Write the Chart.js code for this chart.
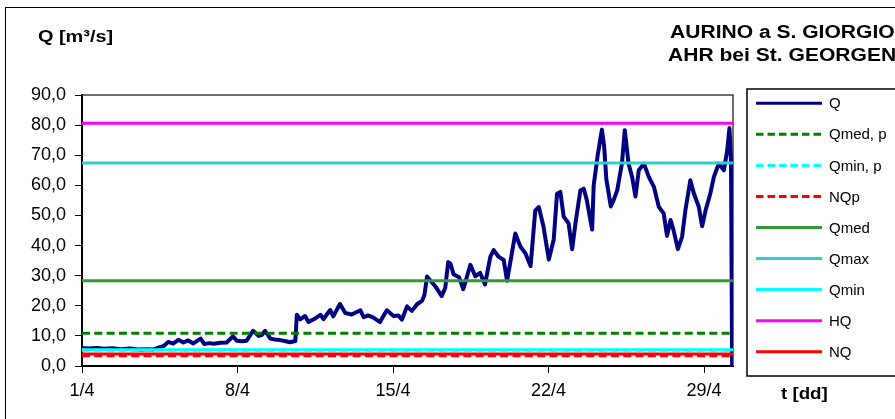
<!DOCTYPE html>
<html>
<head>
<meta charset="utf-8">
<script src="https://cdn.jsdelivr.net/npm/chart.js@4.4.1/dist/chart.umd.min.js"></script>
<style>
  html, body { margin: 0; padding: 0; background: #fff; overflow: hidden; }
  #wrap { position: relative; width: 895px; height: 419px; font-family: "Liberation Sans", Arial, sans-serif; }
  #frame { position: absolute; left: 5px; top: 7px; width: 910px; height: 430px; border: 1.5px solid #000; box-sizing: border-box; }
  #c { position: absolute; left: 0; top: 0; }
  .lbl { position: absolute; font-weight: bold; white-space: nowrap; color: #000; line-height: 1; transform-origin: 0 0; transform: scaleX(1.17); }
</style>
</head>
<body>
<div id="wrap">
  <div id="frame"></div>
  <canvas id="c" width="895" height="419"></canvas>
  <div class="lbl" style="left:38px;top:28px;font-size:17px;">Q [m³/s]</div>
  <div class="lbl" style="left:670px;top:23px;font-size:18px;">AURINO a S. GIORGIO</div>
  <div class="lbl" style="left:668px;top:46px;font-size:18px;">AHR bei St. GEORGEN</div>
  <div class="lbl" style="left:781px;top:386px;font-size:16px;">t [dd]</div>
</div>
<script>
// Discharge series: time in days since 1 April 00:00, flow in m³/s
const qDays = [
  0, 0.29, 0.68, 0.98, 1.37, 1.76, 2.15, 2.54, 2.93, 3.22, 3.51, 3.71, 3.88, 4.10, 4.34, 4.56, 4.78, 5.01, 5.34, 5.50,
  5.75, 5.92, 6.24, 6.51, 6.79, 6.97, 7.22, 7.41, 7.70, 7.95, 8.09, 8.24, 8.48, 8.68, 8.92, 9.17, 9.36, 9.60, 9.67, 9.82,
  10.04, 10.19, 10.43, 10.73, 10.87, 11.17, 11.31, 11.61, 11.85, 12.14, 12.53, 12.68, 12.87, 13.12, 13.41, 13.72, 14.02, 14.24, 14.40, 14.63,
  14.85, 15.08, 15.30, 15.41, 15.53, 15.67, 15.90, 16.19, 16.35, 16.48, 16.58, 16.72, 16.97, 17.16, 17.48, 17.70, 17.92, 18.14, 18.38, 18.53,
  18.75, 18.98, 19.13, 19.36, 19.50, 19.73, 19.95, 20.19, 20.40, 20.56, 20.77, 21.01, 21.23, 21.38, 21.53, 21.68, 21.90, 22.06, 22.21, 22.43,
  22.58, 22.72, 22.96, 23.03, 23.21, 23.40, 23.50, 23.60, 23.80, 23.93, 24.09, 24.30, 24.43, 24.60, 24.76, 24.91, 25.06, 25.29, 25.51, 25.74,
  25.96, 26.18, 26.33, 26.49, 26.62, 26.82, 27.01, 27.16, 27.38, 27.54, 27.76, 27.91, 28.07, 28.28, 28.44, 28.66, 28.89, 29.04, 29.14, 29.21,
  29.26
];
const qFlow = [
  6.0, 5.8, 6.0, 5.7, 5.9, 5.6, 5.8, 5.5, 5.6, 5.5, 6.3, 6.8, 8.0, 7.4, 8.7, 7.8, 8.5, 7.5, 9.1, 7.3,
  7.6, 7.4, 7.7, 7.8, 9.8, 8.4, 8.2, 8.4, 11.7, 10.0, 10.3, 11.7, 9.1, 8.8, 8.6, 8.2, 7.9, 8.3, 17.0, 15.5,
  16.6, 14.6, 15.5, 17.0, 15.6, 18.6, 16.5, 20.6, 17.6, 17.1, 18.5, 16.2, 16.8, 16.1, 14.6, 18.5, 16.6, 16.8, 15.4, 19.8,
  18.3, 20.5, 21.6, 23.5, 29.7, 28.5, 26.5, 23.2, 26.0, 34.5, 34.0, 30.5, 29.5, 25.5, 33.6, 29.8, 30.9, 27.1, 36.3, 38.5,
  36.3, 35.2, 28.3, 38.0, 44.0, 39.7, 37.5, 33.2, 51.6, 52.8, 46.3, 35.4, 41.9, 57.2, 57.8, 49.6, 47.4, 38.8, 47.4, 58.3,
  58.9, 55.1, 45.3, 60.0, 70.0, 78.5, 73.0, 62.0, 53.0, 55.1, 58.4, 67.2, 78.3, 67.2, 62.8, 56.3, 65.0, 67.2, 62.8, 59.5,
  52.9, 50.7, 43.2, 48.5, 45.2, 38.8, 43.0, 51.8, 61.7, 57.3, 52.9, 46.4, 51.8, 57.3, 62.8, 67.2, 65.0, 71.6, 79.0, 68.0,
  0
];

// Reference levels (m³/s)
const refNames  = ['Qmed, p', 'Qmin, p', 'NQp', 'Qmed', 'Qmax', 'Qmin', 'HQ', 'NQ'];
const refValues = [10.9, 5.2, 3.4, 28.3, 67.4, 5.4, 80.6, 4.0];
const refColors = ['#008000', '#00ffff', '#ff0000', '#339933', '#33cccc', '#00ffff', '#ff00ff', '#ff0000'];
const refDashed = [true, true, true, false, false, false, false, false];

// Axis ticks
const xTickDays   = [0, 7, 14, 21, 28];
const xTickLabels = ['1/4', '8/4', '15/4', '22/4', '29/4'];
const X_MIN = 0, X_MAX = 29.3;
const Y_MIN = 0, Y_MAX = 90, Y_STEP = 10;

const FONT = '"Liberation Sans", Arial, sans-serif';

const datasets = [{
  label: 'Q',
  data: qDays.map((d, i) => ({ x: d, y: qFlow[i] })),
  borderColor: '#000080',
  borderWidth: 4,
  borderDash: [],
  order: refNames.length + 1
}];
refNames.forEach((name, i) => {
  datasets.push({
    label: name,
    data: [{ x: X_MIN, y: refValues[i] }, { x: X_MAX, y: refValues[i] }],
    borderColor: refColors[i],
    borderWidth: 3,
    borderDash: refDashed[i] ? [8, 4.3] : [],
    order: refNames.length - i
  });
});

// Top and right edges of the plot area
const plotFrame = {
  id: 'plotFrame',
  beforeDatasetsDraw(chart) {
    const { ctx, chartArea: a } = chart;
    ctx.save();
    ctx.strokeStyle = '#404040';
    ctx.lineWidth = 1.5;
    ctx.beginPath();
    ctx.moveTo(a.left, a.top);
    ctx.lineTo(a.right, a.top);
    ctx.lineTo(a.right, a.bottom);
    ctx.stroke();
    ctx.restore();
  }
};

// Boxed legend on the right
const boxLegend = {
  id: 'boxLegend',
  afterDraw(chart) {
    const ctx = chart.ctx;
    const x0 = 747, y0 = 89, w = 180, h = 287;
    ctx.save();
    ctx.fillStyle = '#fff';
    ctx.fillRect(x0, y0, w, h);
    ctx.strokeStyle = '#000';
    ctx.lineWidth = 1.5;
    ctx.strokeRect(x0, y0, w, h);
    chart.data.datasets.forEach((ds, i) => {
      const y = 103.3 + i * 31.05;
      ctx.beginPath();
      ctx.setLineDash(ds.borderDash && ds.borderDash.length ? [7.5, 4] : []);
      ctx.strokeStyle = ds.borderColor;
      ctx.lineWidth = 3;
      ctx.moveTo(756, y);
      ctx.lineTo(822, y);
      ctx.stroke();
      ctx.setLineDash([]);
      ctx.fillStyle = '#000';
      ctx.font = '15px ' + FONT;
      ctx.textBaseline = 'middle';
      ctx.textAlign = 'left';
      ctx.fillText(ds.label, 829, y + 1);
    });
    ctx.restore();
  }
};

new Chart(document.getElementById('c'), {
  type: 'line',
  data: { datasets },
  plugins: [plotFrame, boxLegend],
  options: {
    responsive: false,
    animation: false,
    layout: { padding: { left: 0, top: 95, right: 162, bottom: 0 } },
    plugins: { legend: { display: false }, title: { display: false }, tooltip: { enabled: false } },
    elements: { point: { radius: 0 }, line: { tension: 0, borderJoinStyle: 'round' } },
    scales: {
      x: {
        type: 'linear',
        min: X_MIN,
        max: X_MAX,
        afterFit(s) { s.height = 53; },
        afterBuildTicks(s) { s.ticks = xTickDays.map(v => ({ value: v })); },
        ticks: {
          autoSkip: false,
          maxRotation: 0,
          color: '#000',
          padding: 7,
          font: { family: FONT, size: 18 },
          callback: (v) => xTickLabels[xTickDays.indexOf(v)]
        },
        grid: { drawOnChartArea: false, drawTicks: true, tickLength: 7, color: '#000', lineWidth: 1 },
        border: { display: true, color: '#000', width: 2 }
      },
      y: {
        min: Y_MIN,
        max: Y_MAX,
        afterFit(s) { s.width = 82; },
        ticks: {
          stepSize: Y_STEP,
          color: '#000',
          padding: 9,
          font: { family: FONT, size: 18 },
          callback: (v) => v.toFixed(1).replace('.', ',')
        },
        grid: { drawOnChartArea: false, drawTicks: true, tickLength: 7, color: '#000', lineWidth: 1 },
        border: { display: true, color: '#000', width: 2 }
      }
    }
  }
});
</script>
</body>
</html>
